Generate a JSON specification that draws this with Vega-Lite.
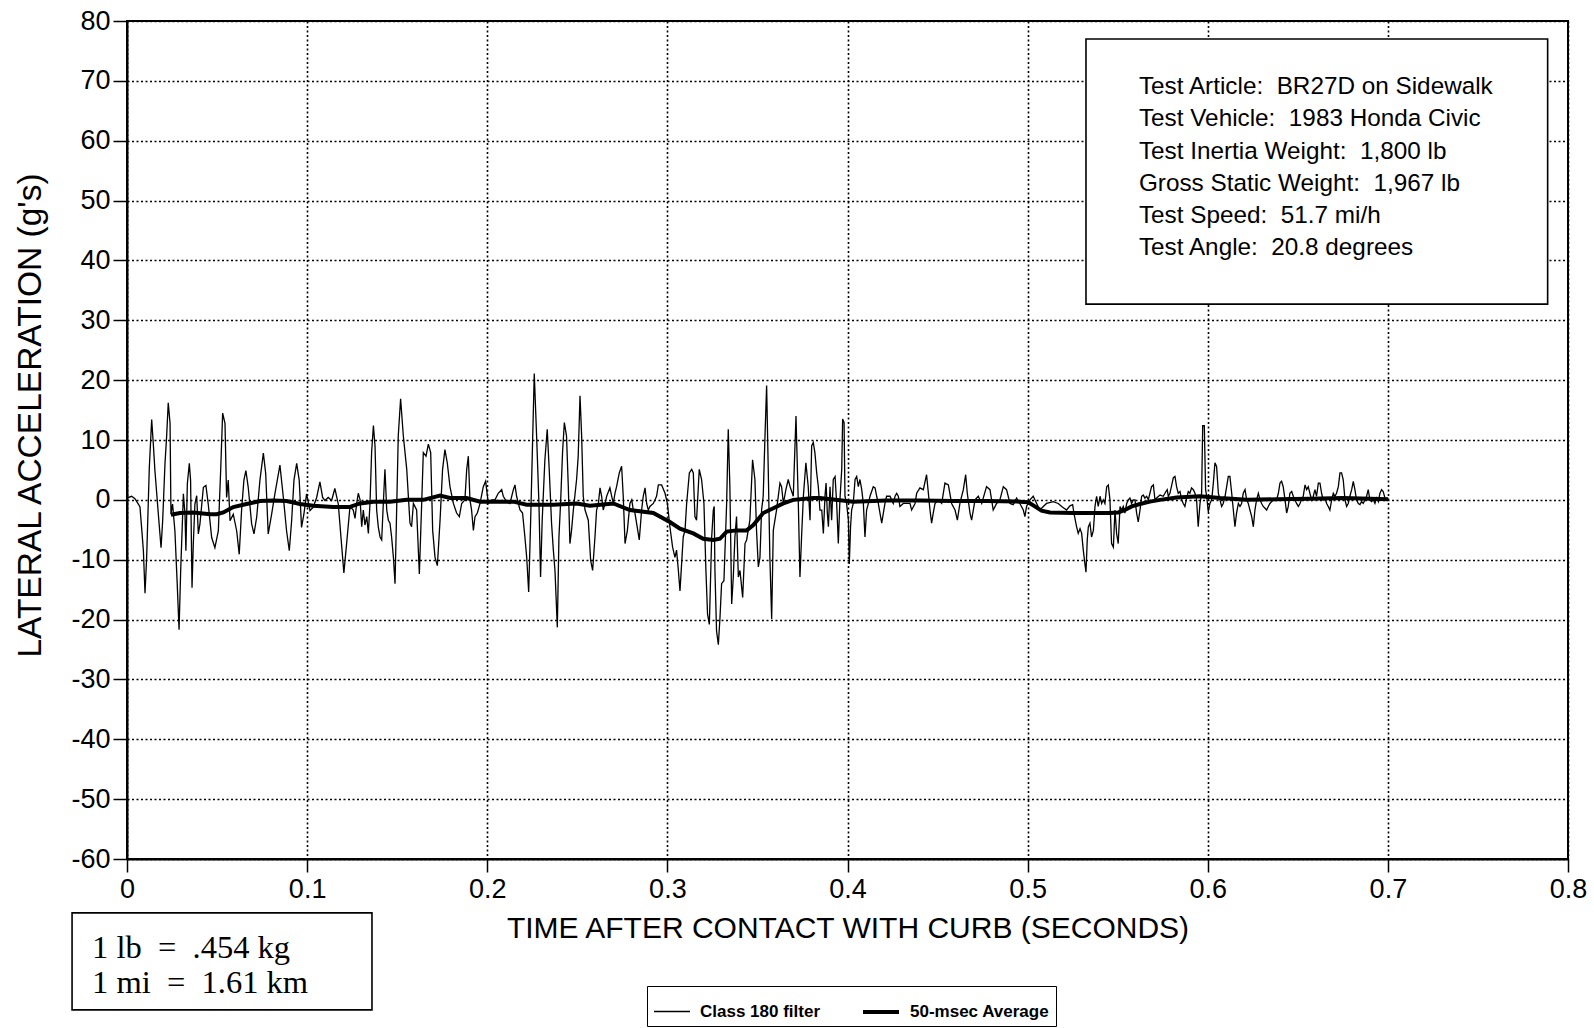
{
"$schema": "https://vega.github.io/schema/vega-lite/v6.json",
"width": 1441, "height": 838,
"autosize": {"type": "none"},
"padding": {"left": 127, "top": 21, "right": 26, "bottom": 169},
"background": "white",
"config": {
  "font": "Liberation Sans",
  "view": {"stroke": "black", "strokeWidth": 2},
  "axis": {"labelFont": "Liberation Sans", "titleFont": "Liberation Sans", "labelColor": "black", "titleColor": "black", "domainColor": "black", "tickColor": "black", "gridColor": "black", "gridDash": [2, 2.5], "gridWidth": 1.6, "gridOpacity": 1, "domainWidth": 2, "tickWidth": 1.5, "labelFontSize": 27, "titleFontWeight": "normal", "labelFlush": false, "labelOverlap": false}
},
"datasets": {
"filter": [
{"t":0,"g":0.5},{"t":0.0007,"g":0.4},{"t":0.0026,"g":0.6},{"t":0.0044,"g":0.2},{"t":0.0063,"g":-0.7},{"t":0.0072,"g":-1.2},{"t":0.0081,"g":-4.6},{"t":0.0091,"g":-8.5},{"t":0.0100,"g":-15.6},{"t":0.0109,"g":-9.7},{"t":0.0124,"g":5.5},{"t":0.0137,"g":13.4},{"t":0.0146,"g":9.4},{"t":0.0155,"g":4.9},{"t":0.0174,"g":-2.4},{"t":0.0189,"g":-8.0},{"t":0.0198,"g":-3.5},{"t":0.0211,"g":6.1},{"t":0.0220,"g":10.6},{"t":0.0229,"g":16.2},{"t":0.0239,"g":12.8},{"t":0.0244,"g":-2.4},{"t":0.0253,"g":-0.7},{"t":0.0266,"g":-5.2},{"t":0.0279,"g":-14.2},{"t":0.0289,"g":-21.7},{"t":0.0298,"g":-11.9},{"t":0.0313,"g":1.0},{"t":0.0322,"g":-2.4},{"t":0.0327,"g":-8.5},{"t":0.0335,"g":2.7},{"t":0.0346,"g":6.1},{"t":0.0353,"g":3.3},{"t":0.0361,"g":-14.7},{"t":0.0368,"g":-7.4},{"t":0.0377,"g":-0.7},{"t":0.0387,"g":0.7},{"t":0.0396,"g":-5.7},{"t":0.0405,"g":-4.0},{"t":0.0424,"g":2.1},{"t":0.0438,"g":2.4},{"t":0.0451,"g":-0.7},{"t":0.0470,"g":-6.3},{"t":0.0488,"g":-8.0},{"t":0.0507,"g":-5.2},{"t":0.0520,"g":4.9},{"t":0.0531,"g":14.5},{"t":0.0544,"g":12.8},{"t":0.0553,"g":0.4},{"t":0.0562,"g":3.3},{"t":0.0572,"g":-3.5},{"t":0.0590,"g":-2.4},{"t":0.0609,"g":-5.2},{"t":0.0623,"g":-9.1},{"t":0.0636,"g":-1.8},{"t":0.0649,"g":3.3},{"t":0.0660,"g":4.9},{"t":0.0673,"g":2.1},{"t":0.0692,"g":-4.0},{"t":0.0705,"g":-5.7},{"t":0.0720,"g":-2.9},{"t":0.0738,"g":3.3},{"t":0.0757,"g":7.8},{"t":0.0770,"g":4.4},{"t":0.0784,"g":-5.7},{"t":0.0803,"g":-2.4},{"t":0.0821,"g":1.0},{"t":0.0849,"g":5.8},{"t":0.0868,"g":0.4},{"t":0.0886,"g":-5.2},{"t":0.0901,"g":-8.5},{"t":0.0914,"g":-3.5},{"t":0.0927,"g":3.3},{"t":0.0942,"g":6.1},{"t":0.0956,"g":3.3},{"t":0.0969,"g":-4.6},{"t":0.0982,"g":-2.4},{"t":0.0997,"g":1.0},{"t":0.1016,"g":-1.8},{"t":0.1034,"g":-1.2},{"t":0.1053,"g":0.4},{"t":0.1071,"g":3.0},{"t":0.1086,"g":0.4},{"t":0.1099,"g":-0.1},{"t":0.1117,"g":0.4},{"t":0.1136,"g":-0.1},{"t":0.1154,"g":1.9},{"t":0.1173,"g":-0.7},{"t":0.1191,"g":-7.4},{"t":0.1204,"g":-12.2},{"t":0.1219,"g":-7.4},
{"t":0.1238,"g":-1.1},{"t":0.1256,"g":-1.7},{"t":0.1266,"g":-3.1},{"t":0.1275,"g":-0.6},{"t":0.1284,"g":1.1},{"t":0.1294,"g":0},{"t":0.1303,"g":-4.5},{"t":0.1312,"g":-1.7},{"t":0.1321,"g":-4.2},{"t":0.1331,"g":-2.8},{"t":0.1340,"g":-5.6},{"t":0.1349,"g":-0.6},{"t":0.1358,"g":7.9},{"t":0.1368,"g":12.4},{"t":0.1377,"g":9.0},{"t":0.1386,"g":-1.7},{"t":0.1395,"g":-4.5},{"t":0.1405,"g":-6.2},{"t":0.1414,"g":-6.7},{"t":0.1423,"g":-0.6},{"t":0.1432,"g":5.1},{"t":0.1442,"g":-1.7},{"t":0.1451,"g":-3.4},{"t":0.1460,"g":-3.9},{"t":0.1469,"g":-6.2},{"t":0.1479,"g":-9.6},{"t":0.1488,"g":-14.0},{"t":0.1497,"g":-1.7},{"t":0.1506,"g":10.7},{"t":0.1519,"g":16.9},{"t":0.1534,"g":10.7},{"t":0.1553,"g":5.1},{"t":0.1571,"g":-3.9},{"t":0.1580,"g":-4.5},{"t":0.1590,"g":-0.6},{"t":0.1608,"g":-1.7},{"t":0.1623,"g":-12.4},{"t":0.1636,"g":-0.6},{"t":0.1645,"g":7.9},{"t":0.1660,"g":7.3},{"t":0.1673,"g":9.3},{"t":0.1686,"g":7.9},{"t":0.1697,"g":-5.1},{"t":0.1710,"g":-9.6},{"t":0.1723,"g":-11.0},{"t":0.1738,"g":-3.4},{"t":0.1752,"g":5.1},{"t":0.1765,"g":8.4},{"t":0.1778,"g":6.2},{"t":0.1793,"g":2.2},{"t":0.1812,"g":-0.6},{"t":0.1830,"g":-2.2},{"t":0.1845,"g":-2.8},{"t":0.1858,"g":-0.6},{"t":0.1876,"g":0},{"t":0.1886,"g":5.1},{"t":0.1895,"g":7.3},{"t":0.1904,"g":0},{"t":0.1913,"g":-1.7},{"t":0.1923,"g":-5.1},{"t":0.1932,"g":-2.8},{"t":0.1945,"g":-2.2},{"t":0.1960,"g":-0.6},{"t":0.1978,"g":2.2},{"t":0.1991,"g":3.1},{"t":0.2006,"g":-0.6},{"t":0.2024,"g":0},{"t":0.2043,"g":0},{"t":0.2061,"g":1.1},{"t":0.2080,"g":1.7},{"t":0.2089,"g":0.6},{"t":0.2107,"g":-0.3},{"t":0.2126,"g":-0.6},{"t":0.2145,"g":1.7},{"t":0.2154,"g":2.5},{"t":0.2163,"g":0.6},{"t":0.2182,"g":-1.7},{"t":0.2196,"g":-2.2},{"t":0.2209,"g":-6.2},{"t":0.2219,"g":-9.6},{"t":0.2230,"g":-15.4},{"t":0.2241,"g":-3.4},{"t":0.2252,"g":10.1},{"t":0.2261,"g":21.1},{"t":0.2274,"g":10.7},{"t":0.2287,"g":-0.6},{"t":0.2296,"g":-12.9},{"t":0.2305,"g":-3.4},{"t":0.2320,"g":6.7},{"t":0.2333,"g":11.8},{"t":0.2344,"g":5.1},{"t":0.2357,"g":-3.9},{"t":0.2367,"g":-8.4},{"t":0.2376,"g":-11.8},{"t":0.2389,"g":-21.3},{"t":0.2398,"g":-6.2},{"t":0.2407,"g":-0.6},{"t":0.2418,"g":7.9},{"t":0.2428,"g":12.9},{"t":0.2440,"g":10.7},{"t":0.2450,"g":2.2},{"t":0.2459,"g":-7.3},{"t":0.2468,"g":-5.1},{"t":0.2478,"g":-1.7},{"t":0.2496,"g":3.4},{"t":0.2505,"g":7.3},{"t":0.2515,"g":17.4},{"t":0.2524,"g":10.7},{"t":0.2533,"g":0.6},
{"t":0.2543,"g":-1.7},{"t":0.2561,"g":-3.4},{"t":0.2574,"g":-10.1},{"t":0.2585,"g":-11.8},{"t":0.2598,"g":-6.2},{"t":0.2607,"g":-1.7},{"t":0.2617,"g":-0.6},{"t":0.2626,"g":2.0},{"t":0.2635,"g":0.6},{"t":0.2644,"g":-1.7},{"t":0.2654,"g":-0.6},{"t":0.2663,"g":0.6},{"t":0.2681,"g":2.0},{"t":0.2691,"g":0.6},{"t":0.2700,"g":-0.6},{"t":0.2709,"g":1.1},{"t":0.2718,"g":2.2},{"t":0.2733,"g":4.5},{"t":0.2746,"g":5.6},{"t":0.2755,"g":0.6},{"t":0.2765,"g":-7.3},{"t":0.2778,"g":-5.1},{"t":0.2792,"g":-0.6},{"t":0.2802,"g":0},{"t":0.2811,"g":-1.7},{"t":0.2820,"g":-2.2},{"t":0.2829,"g":-3.9},{"t":0.2844,"g":-6.7},{"t":0.2857,"g":-1.7},{"t":0.2866,"g":0.6},{"t":0.2876,"g":2.0},{"t":0.2885,"g":-0.6},{"t":0.2894,"g":-1.7},{"t":0.2903,"g":-1.1},{"t":0.2922,"g":-0.6},{"t":0.2940,"g":0.6},{"t":0.2950,"g":2.5},{"t":0.2968,"g":2.5},{"t":0.2987,"g":1.1},{"t":0.3000,"g":-0.6},{"t":0.3014,"g":-4.5},{"t":0.3029,"g":-7.9},{"t":0.3042,"g":-9.6},{"t":0.3051,"g":-8.4},{"t":0.3061,"g":-11.8},{"t":0.3070,"g":-15.2},{"t":0.3079,"g":-10.7},{"t":0.3088,"g":-6.2},{"t":0.3098,"g":-5.1},{"t":0.3107,"g":-0.6},{"t":0.3122,"g":4.5},{"t":0.3135,"g":5.1},{"t":0.3144,"g":4.5},{"t":0.3153,"g":-2.8},{"t":0.3162,"g":-3.4},{"t":0.3177,"g":5.1},{"t":0.3190,"g":3.4},{"t":0.3203,"g":-0.6},{"t":0.3214,"g":-11.8},{"t":0.3223,"g":-19.1},{"t":0.3233,"g":-20.8},{"t":0.3246,"g":-6.2},{"t":0.3255,"g":-1.7},{"t":0.3260,"g":-1.1},{"t":0.3264,"g":-11.8},{"t":0.3273,"g":-21.9},{"t":0.3283,"g":-24.2},{"t":0.3292,"g":-19.7},{"t":0.3301,"g":-14.0},{"t":0.3314,"g":-13.5},{"t":0.3329,"g":-0.6},{"t":0.3338,"g":11.8},{"t":0.3347,"g":2.2},{"t":0.3357,"g":-17.4},{"t":0.3366,"g":-12.9},{"t":0.3375,"g":-6.2},{"t":0.3384,"g":-2.8},{"t":0.3394,"g":-12.9},{"t":0.3403,"g":-11.8},{"t":0.3418,"g":-16.3},{"t":0.3431,"g":-7.3},{"t":0.3440,"g":-6.7},{"t":0.3458,"g":-3.4},{"t":0.3473,"g":6.7},{"t":0.3486,"g":3.4},{"t":0.3495,"g":-5.1},{"t":0.3505,"g":-11.2},{"t":0.3514,"g":-9.6},{"t":0.3523,"g":-1.7},{"t":0.3532,"g":0.6},{"t":0.3542,"g":10.7},{"t":0.3551,"g":19.1},{"t":0.3560,"g":5.1},{"t":0.3569,"g":-9.6},{"t":0.3579,"g":-19.9},{"t":0.3588,"g":-5.1},{"t":0.3606,"g":-1.7},{"t":0.3625,"g":2.8},{"t":0.3634,"g":2.2},{"t":0.3644,"g":-0.6},{"t":0.3658,"g":1.7},{"t":0.3671,"g":3.4},{"t":0.3681,"g":2.2},{"t":0.3699,"g":0.6},{"t":0.3714,"g":14.0},{"t":0.3727,"g":-0.6},{"t":0.3736,"g":-12.9},{"t":0.3745,"g":-6.2},{"t":0.3755,"g":0.6},{"t":0.3769,"g":6.2},{"t":0.3782,"g":2.2},{"t":0.3792,"g":-3.4},{"t":0.3801,"g":9.0},{"t":0.3810,"g":9.6},{"t":0.3819,"g":7.9},{"t":0.3829,"g":4.5},{"t":0.3838,"g":2.2},{"t":0.3847,"g":-1.7},
{"t":0.3857,"g":-1.7},{"t":0.3866,"g":-5.6},{"t":0.3875,"g":0.6},{"t":0.3881,"g":2.8},{"t":0.3888,"g":-2.2},{"t":0.3894,"g":-4.5},{"t":0.3903,"g":2.2},{"t":0.3912,"g":-3.4},{"t":0.3921,"g":3.4},{"t":0.3931,"g":3.9},{"t":0.3940,"g":-0.6},{"t":0.3949,"g":-7.3},{"t":0.3958,"g":0},{"t":0.3968,"g":5.1},{"t":0.3973,"g":13.5},{"t":0.3981,"g":12.9},{"t":0.3986,"g":0.6},{"t":0.3995,"g":-0.6},{"t":0.4005,"g":-3.4},{"t":0.4010,"g":-10.7},{"t":0.4017,"g":-4.5},{"t":0.4023,"g":-1.7},{"t":0.4032,"g":-0.6},{"t":0.4042,"g":3.4},{"t":0.4051,"g":3.9},{"t":0.4060,"g":2.2},{"t":0.4069,"g":3.4},{"t":0.4079,"g":1.7},{"t":0.4088,"g":-0.6},{"t":0.4097,"g":-6.2},{"t":0.4106,"g":-1.7},{"t":0.4116,"g":-0.6},{"t":0.4125,"g":0.6},{"t":0.4143,"g":2.2},{"t":0.4153,"g":2.0},{"t":0.4162,"g":0.6},{"t":0.4171,"g":-0.6},{"t":0.4190,"g":-3.9},{"t":0.4199,"g":-2.2},{"t":0.4208,"g":-0.6},{"t":0.4217,"g":0.6},{"t":0.4236,"g":0.6},{"t":0.4254,"g":-0.6},{"t":0.4264,"g":0.6},{"t":0.4273,"g":1.1},{"t":0.4282,"g":0.6},{"t":0.4291,"g":-1.1},{"t":0.4310,"g":-0.6},{"t":0.4347,"g":-0.6},{"t":0.4356,"g":-1.7},{"t":0.4375,"g":-0.6},{"t":0.4384,"g":1.1},{"t":0.4402,"g":2.0},{"t":0.4421,"g":1.7},{"t":0.4439,"g":4.2},{"t":0.4449,"g":1.1},{"t":0.4458,"g":-1.7},{"t":0.4467,"g":-3.9},{"t":0.4476,"g":-2.2},{"t":0.4486,"g":-0.6},{"t":0.4504,"g":0},{"t":0.4523,"g":-0.6},{"t":0.4541,"g":2.8},{"t":0.4560,"g":2.5},{"t":0.4578,"g":-0.6},{"t":0.4597,"g":-1.7},{"t":0.4610,"g":-3.4},{"t":0.4624,"g":-0.6},{"t":0.4643,"g":1.7},{"t":0.4656,"g":4.2},{"t":0.4665,"g":1.1},{"t":0.4680,"g":-2.2},{"t":0.4689,"g":-3.4},{"t":0.4708,"g":0},{"t":0.4726,"g":0.6},{"t":0.4745,"g":-0.6},{"t":0.4772,"g":2.2},{"t":0.4791,"g":1.7},{"t":0.4809,"g":-1.7},{"t":0.4828,"g":-0.6},{"t":0.4846,"g":0},{"t":0.4865,"g":2.2},{"t":0.4883,"g":1.7},{"t":0.4902,"g":-0.6},{"t":0.4920,"g":-0.8},{"t":0.4939,"g":0.3},{"t":0.4957,"g":-0.6},{"t":0.4976,"g":-1.7},{"t":0.4985,"g":-2.8},{"t":0.4994,"g":-1.1},{"t":0.5013,"g":0},{"t":0.5031,"g":0.6},{"t":0.5050,"g":-0.6},{"t":0.5068,"g":-1.7},{"t":0.5087,"g":-1.1},{"t":0.5105,"g":-0.6},{"t":0.5142,"g":-0.3},{"t":0.5170,"g":-0.6},{"t":0.5189,"g":-1.1},{"t":0.5216,"g":-1.7},
{"t":0.5235,"g":-1.0},{"t":0.5250,"g":-0.8},{"t":0.5257,"g":-2.2},{"t":0.5272,"g":-4.5},{"t":0.5281,"g":-5.6},{"t":0.5291,"g":-4.8},{"t":0.5300,"g":-5.6},{"t":0.5309,"g":-8.4},{"t":0.5318,"g":-10.7},{"t":0.5324,"g":-12.1},{"t":0.5331,"g":-6.7},{"t":0.5337,"g":-4.5},{"t":0.5346,"g":-3.9},{"t":0.5355,"g":-6.2},{"t":0.5365,"g":-5.1},{"t":0.5374,"g":-1.1},{"t":0.5383,"g":0.6},{"t":0.5392,"g":-1.1},{"t":0.5402,"g":0.6},{"t":0.5411,"g":-0.6},{"t":0.5420,"g":0},{"t":0.5429,"g":-0.6},{"t":0.5439,"g":2.2},{"t":0.5448,"g":2.5},{"t":0.5457,"g":0},{"t":0.5466,"g":-7.3},{"t":0.5476,"g":-7.9},{"t":0.5485,"g":-1.7},{"t":0.5494,"g":-5.6},{"t":0.5503,"g":-7.3},{"t":0.5513,"g":-1.1},{"t":0.5522,"g":-1.7},{"t":0.5531,"g":-1.1},{"t":0.5540,"g":-2.2},{"t":0.5550,"g":-0.6},{"t":0.5559,"g":0},{"t":0.5568,"g":0.3},{"t":0.5577,"g":-0.6},{"t":0.5587,"g":0},{"t":0.5596,"g":0},{"t":0.5605,"g":-2.2},{"t":0.5614,"g":-3.7},{"t":0.5624,"g":-1.7},{"t":0.5633,"g":0.6},{"t":0.5642,"g":0.8},{"t":0.5651,"g":0.3},{"t":0.5661,"g":0.6},{"t":0.5670,"g":0},{"t":0.5679,"g":1.1},{"t":0.5688,"g":2.2},{"t":0.5698,"g":2.5},{"t":0.5707,"g":0},{"t":0.5716,"g":0.3},{"t":0.5735,"g":0.8},{"t":0.5753,"g":0.6},{"t":0.5768,"g":1.4},{"t":0.5775,"g":1.7},{"t":0.5781,"g":0.6},{"t":0.5790,"g":1.1},{"t":0.5809,"g":3.7},{"t":0.5818,"g":3.9},{"t":0.5827,"g":2.2},{"t":0.5836,"g":1.1},{"t":0.5846,"g":1.4},{"t":0.5855,"g":0},{"t":0.5864,"g":-0.6},{"t":0.5873,"g":-1.1},{"t":0.5883,"g":0.3},{"t":0.5892,"g":1.4},{"t":0.5901,"g":1.1},{"t":0.5910,"g":2.0},{"t":0.5920,"g":1.7},{"t":0.5929,"g":1.1},{"t":0.5938,"g":0},{"t":0.5947,"g":-4.5},{"t":0.5957,"g":-0.6},{"t":0.5966,"g":1.1},{"t":0.5972,"g":12.4},{"t":0.5981,"g":12.4},{"t":0.5988,"g":1.7},{"t":0.5994,"g":0.6},{"t":0.6003,"g":-2.0},{"t":0.6012,"g":-0.6},{"t":0.6022,"g":0},{"t":0.6031,"g":2.8},{"t":0.6040,"g":6.2},{"t":0.6049,"g":5.6},{"t":0.6059,"g":1.1},{"t":0.6068,"g":0},{"t":0.6077,"g":-1.1},{"t":0.6086,"g":-0.6},{"t":0.6096,"g":0.6},{"t":0.6105,"g":2.2},{"t":0.6114,"g":3.9},{"t":0.6123,"g":3.9},{"t":0.6133,"g":1.1},{"t":0.6142,"g":-1.7},{"t":0.6151,"g":-4.5},{"t":0.6160,"g":-2.2},{"t":0.6170,"g":-0.6},{"t":0.6179,"g":-1.1},{"t":0.6188,"g":-0.6},{"t":0.6197,"g":1.1},{"t":0.6207,"g":1.7},{"t":0.6216,"g":0},{"t":0.6225,"g":-0.6},{"t":0.6234,"g":-1.7},{"t":0.6244,"g":-2.8},{"t":0.6253,"g":-4.5},{"t":0.6262,"g":-1.7},{"t":0.6271,"g":0},{"t":0.6281,"g":1.1},{"t":0.6290,"g":0},{"t":0.6299,"g":-0.6},{"t":0.6308,"g":-1.1},{"t":0.6318,"g":-1.4},{"t":0.6327,"g":-1.7},{"t":0.6336,"g":-1.1},{"t":0.6345,"g":-0.6},{"t":0.6364,"g":0},{"t":0.6382,"g":0},{"t":0.6392,"g":1.1},{"t":0.6401,"g":2.8},{"t":0.6410,"g":3.1},{"t":0.6419,"g":2.2},{"t":0.6429,"g":0},{"t":0.6438,"g":-2.2},{"t":0.6447,"g":-1.1},{"t":0.6456,"g":1.1},{"t":0.6466,"g":1.4},{"t":0.6475,"g":0.6},{"t":0.6484,"g":0},{"t":0.6493,"g":-0.6},{"t":0.6503,"g":-1.1},{"t":0.6512,"g":-0.6},{"t":0.6521,"g":0},{"t":0.6530,"g":0.6},{"t":0.6540,"g":2.5},{"t":0.6549,"g":1.7},{"t":0.6558,"g":2.2},{"t":0.6567,"g":1.1},{"t":0.6577,"g":0},{"t":0.6586,"g":0.6},{"t":0.6595,"g":1.7},{"t":0.6604,"g":0.6},{"t":0.6614,"g":2.8},{"t":0.6623,"g":2.8},{"t":0.6632,"g":1.1},{"t":0.6641,"g":0},{"t":0.6651,"g":0.3},{"t":0.6660,"g":-0.6},{"t":0.6669,"g":-1.1},{"t":0.6678,"g":-1.7},{"t":0.6688,"g":0},{"t":0.6697,"g":1.1},{"t":0.6706,"g":0.6},{"t":0.6715,"g":1.1},{"t":0.6725,"g":2.2},{"t":0.6734,"g":4.5},{"t":0.6743,"g":4.5},{"t":0.6752,"g":3.4},{"t":0.6762,"g":0},{"t":0.6771,"g":-1.1},{"t":0.6780,"g":-0.6},{"t":0.6789,"g":0.6},{"t":0.6799,"g":1.7},{"t":0.6808,"g":3.1},{"t":0.6817,"g":1.7},{"t":0.6826,"g":0},{"t":0.6836,"g":-0.6},{"t":0.6845,"g":-0.8},{"t":0.6854,"g":-0.3},{"t":0.6863,"g":-0.6},{"t":0.6873,"g":0},{"t":0.6882,"g":0.6},{"t":0.6891,"g":1.7},{"t":0.6900,"g":0},{"t":0.6910,"g":-0.3},{"t":0.6919,"g":0},{"t":0.6928,"g":-0.6},{"t":0.6937,"g":0.3},{"t":0.6947,"g":-0.3},{"t":0.6956,"g":1.1},{"t":0.6965,"g":1.7},{"t":0.6974,"g":1.4},{"t":0.6984,"g":0.3},{"t":0.6993,"g":0},{"t":0.7002,"g":0}
],
"avg": [
{"t":0.0244,"g":-2.5},{"t":0.0294,"g":-2.2},{"t":0.0368,"g":-2.1},{"t":0.0461,"g":-2.4},{"t":0.0498,"g":-2.4},{"t":0.0535,"g":-2.1},{"t":0.0590,"g":-1.2},{"t":0.0664,"g":-0.7},{"t":0.0738,"g":-0.2},{"t":0.0812,"g":-0.1},{"t":0.0886,"g":-0.2},{"t":0.0960,"g":-0.7},{"t":0.1034,"g":-1.0},{"t":0.1145,"g":-1.2},{"t":0.1234,"g":-1.2},{"t":0.1294,"g":-0.6},{"t":0.1368,"g":-0.3},{"t":0.1460,"g":-0.3},{"t":0.1553,"g":0},{"t":0.1645,"g":0},{"t":0.1738,"g":0.7},{"t":0.1793,"g":0.3},{"t":0.1886,"g":0.3},{"t":0.1960,"g":-0.3},{"t":0.2071,"g":-0.3},{"t":0.2145,"g":-0.3},{"t":0.2219,"g":-0.8},{"t":0.2367,"g":-0.8},{"t":0.2496,"g":-0.6},{"t":0.2570,"g":-1.0},{"t":0.2700,"g":-0.6},{"t":0.2792,"g":-1.7},{"t":0.2922,"g":-2.2},{"t":0.3014,"g":-3.7},{"t":0.3070,"g":-4.8},{"t":0.3144,"g":-5.6},{"t":0.3199,"g":-6.5},{"t":0.3255,"g":-6.7},{"t":0.3292,"g":-6.5},{"t":0.3329,"g":-5.3},{"t":0.3384,"g":-5.1},{"t":0.3440,"g":-5.1},{"t":0.3477,"g":-4.2},{"t":0.3532,"g":-2.2},{"t":0.3588,"g":-1.4},{"t":0.3644,"g":-0.6},{"t":0.3699,"g":0},{"t":0.3810,"g":0.3},{"t":0.3847,"g":0.3},{"t":0.4032,"g":-0.3},{"t":0.4217,"g":-0.1},{"t":0.4402,"g":-0.1},{"t":0.4587,"g":-0.2},{"t":0.4772,"g":-0.2},{"t":0.4957,"g":-0.3},{"t":0.5004,"g":-0.4},{"t":0.5040,"g":-1.1},{"t":0.5077,"g":-1.8},{"t":0.5124,"g":-2.1},{"t":0.5254,"g":-2.2},{"t":0.5383,"g":-2.2},{"t":0.5457,"g":-2.2},{"t":0.5503,"g":-2.1},{"t":0.5540,"g":-1.7},{"t":0.5578,"g":-1.1},{"t":0.5624,"g":-0.7},{"t":0.5679,"g":-0.3},{"t":0.5735,"g":0},{"t":0.5827,"g":0.4},{"t":0.5957,"g":0.6},{"t":0.6068,"g":0.3},{"t":0.6216,"g":0},{"t":0.6382,"g":0.1},{"t":0.6567,"g":0.2},{"t":0.6752,"g":0.3},{"t":0.7002,"g":0.1}
],
"boxes": [
{"t":0.5324,"t2":0.7887,"g":77.0,"g2":32.7},
{"t":-0.0305,"t2":0.136,"g":-69.0,"g2":-85.2}
],
"info": [
{"t":0.5618,"g":68.97,"label":"Test Article:\u00a0 BR27D on Sidewalk"},
{"t":0.5618,"g":63.63,"label":"Test Vehicle:\u00a0 1983 Honda Civic"},
{"t":0.5618,"g":58.12,"label":"Test Inertia Weight:\u00a0 1,800 lb"},
{"t":0.5618,"g":52.77,"label":"Gross Static Weight:\u00a0 1,967 lb"},
{"t":0.5618,"g":47.42,"label":"Test Speed:\u00a0 51.7 mi/h"},
{"t":0.5618,"g":42.08,"label":"Test Angle:\u00a0 20.8 degrees"}
],
"units": [
{"t":-0.0194,"g":-74.9,"label":"1 lb\u00a0 =\u00a0 .454 kg"},
{"t":-0.0194,"g":-80.7,"label":"1 mi\u00a0 =\u00a0 1.61 km"}
]
},
"encoding": {
  "x": {"field": "t", "type": "quantitative",
        "scale": {"domain": [0, 0.8], "nice": false, "zero": false},
        "axis": {"values": [0, 0.1, 0.2, 0.3, 0.4, 0.5, 0.6, 0.7, 0.8], "labelExpr": "datum.value == 0 ? '0' : format(datum.value, '.1f')", "tickSize": 13, "labelPadding": 4, "grid": true, "title": "TIME AFTER CONTACT WITH CURB (SECONDS)", "titleFontSize": 30, "titleY": 78, "titleBaseline": "alphabetic"}},
  "y": {"field": "g", "type": "quantitative",
        "scale": {"domain": [-60, 80], "nice": false, "zero": false},
        "axis": {"values": [-60, -50, -40, -30, -20, -10, 0, 10, 20, 30, 40, 50, 60, 70, 80], "labelExpr": "'' + datum.value", "tickSize": 14, "labelPadding": 3, "grid": true, "title": "LATERAL ACCELERATION (g's)", "titleFontSize": 33.5, "titleAngle": -90, "titleX": -87, "titleY": 394, "titleAlign": "center", "titleBaseline": "alphabetic"}}
},
"layer": [
  {"data": {"name": "boxes"}, "mark": {"type": "rect", "fill": "white", "stroke": "black", "strokeWidth": 1.6},
   "encoding": {"x2": {"field": "t2"}, "y2": {"field": "g2"}}},
  {"data": {"name": "filter"}, "mark": {"type": "line", "color": "black"},
   "encoding": {"strokeWidth": {"datum": "Class 180 filter", "type": "ordinal",
      "scale": {"domain": ["Class 180 filter", "50-msec Average"], "range": [1.3, 4]},
      "legend": {"title": null, "orient": "none", "legendX": 520, "legendY": 965, "direction": "horizontal", "strokeColor": "black", "fillColor": "white", "padding": 6, "symbolType": "stroke", "symbolSize": 1296, "symbolStrokeColor": "black", "labelFontSize": 17, "labelFontWeight": "bold", "labelFont": "Liberation Sans", "labelColor": "black", "labelOffset": 9, "columnPadding": 34}}}},
  {"data": {"name": "avg"}, "mark": {"type": "line", "color": "black"},
   "encoding": {"strokeWidth": {"datum": "50-msec Average", "type": "ordinal"}}},
  {"data": {"name": "info"}, "mark": {"type": "text", "align": "left", "baseline": "middle", "font": "Liberation Sans", "fontSize": 24.3, "color": "black"},
   "encoding": {"text": {"field": "label"}}},
  {"data": {"name": "units"}, "mark": {"type": "text", "align": "left", "baseline": "middle", "font": "Liberation Serif", "fontSize": 32.5, "color": "black"},
   "encoding": {"text": {"field": "label"}}}
]
}
